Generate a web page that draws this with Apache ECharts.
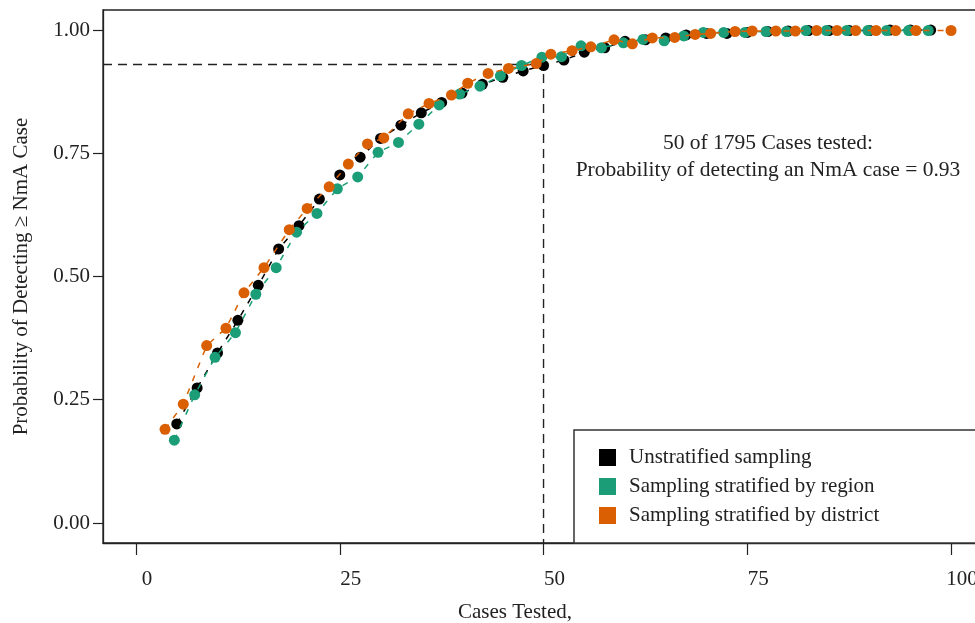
<!DOCTYPE html>
<html><head><meta charset="utf-8">
<script src="https://cdn.jsdelivr.net/npm/echarts@6/dist/echarts.min.js"></script>
<style>html,body{margin:0;padding:0;background:#fff}#c{width:975px;height:623px}</style>
</head><body><div id="c"></div><script>
const FONT = '"Liberation Serif", "DejaVu Serif", serif';
const seriesNames = ['Unstratified sampling', 'Sampling stratified by region', 'Sampling stratified by district'];
const seriesColors = ['#000000', '#1b9e77', '#d95f02'];

const unstratX = [5, 7.5, 10, 12.5, 15, 17.5, 20, 22.5, 25, 27.5, 30, 32.5, 35, 37.5, 40, 42.5, 45, 47.5, 50, 52.5,
  55, 57.5, 60, 62.5, 65, 67.5, 70, 72.5, 75, 77.5, 80, 82.5, 85, 87.5, 90, 92.5, 95, 97.5];
const unstratY = [0.201, 0.274, 0.345, 0.411, 0.482, 0.556, 0.603, 0.657, 0.706, 0.742, 0.780, 0.807, 0.832, 0.853, 0.872, 0.890, 0.904, 0.917, 0.928, 0.939,
  0.955, 0.964, 0.977, 0.980, 0.984, 0.990, 0.993, 0.993, 0.995, 0.997, 0.998, 0.999, 0.999, 0.999, 0.999, 1.0, 1.0, 1.0];

const regionX = [4.7, 7.2, 9.7, 12.2, 14.7, 17.2, 19.7, 22.2, 24.7, 27.2, 29.7, 32.2, 34.7, 37.2, 39.7, 42.2, 44.7, 47.3, 49.8, 52.2,
  54.6, 57.1, 59.8, 62.2, 64.8, 67.2, 69.6, 72.1, 74.7, 77.3, 79.8, 82.2, 84.7, 87.2, 89.8, 92.1, 94.8, 97.2];
const regionY = [0.168, 0.260, 0.336, 0.386, 0.464, 0.518, 0.590, 0.628, 0.678, 0.702, 0.752, 0.772, 0.809, 0.848, 0.870, 0.886, 0.907, 0.928, 0.945, 0.946,
  0.968, 0.964, 0.974, 0.981, 0.978, 0.988, 0.995, 0.995, 0.995, 0.997, 0.997, 0.999, 0.999, 0.999, 0.999, 0.999, 0.999, 0.999];

const districtX = [3.56, 5.8, 8.67, 11.04, 13.25, 15.7, 18.8, 21.0, 23.7, 26.05, 28.4, 30.4, 33.4, 35.95, 38.7, 40.7, 43.2, 45.7, 49.1, 50.9,
  53.5, 55.8, 58.65, 60.9, 63.35, 66.1, 68.6, 70.5, 73.5, 75.6, 78.5, 80.9, 83.5, 86.0, 88.3, 90.8, 93.2, 95.7, 100];
const districtY = [0.190, 0.241, 0.360, 0.395, 0.467, 0.518, 0.595, 0.638, 0.682, 0.728, 0.769, 0.781, 0.830, 0.851, 0.868, 0.892, 0.912, 0.922, 0.932, 0.951,
  0.958, 0.966, 0.980, 0.972, 0.984, 0.985, 0.991, 0.993, 0.997, 0.998, 0.998, 0.998, 0.999, 0.999, 0.999, 0.999, 0.999, 0.999, 0.999];

const xTicks = [0, 25, 50, 75, 100];
const yTicks = [0, 0.25, 0.5, 0.75, 1.0];
const refX = 50, refY = 0.93;
const annotationLines = ['50 of 1795 Cases tested:', 'Probability of detecting an NmA case = 0.93'];
const xTitle = 'Cases Tested,';
const yTitle = 'Probability of Detecting \u2265 NmA Case';

const X_MIN = -4.05, X_MAX = 104.9, Y_MIN = -0.0406, Y_MAX = 1.0406;

function zip(xs, ys) { return xs.map((x, i) => [x, ys[i]]); }
const groups = [[unstratX, unstratY], [regionX, regionY], [districtX, districtY]];

const chart = echarts.init(document.getElementById('c'), null, {renderer: 'canvas'});
const series = groups.map((g, i) => ({
  name: seriesNames[i], type: 'line', data: zip(g[0], g[1]),
  symbol: 'circle', symbolSize: 11, showSymbol: true, z: 3 + i,
  lineStyle: {type: [6, 8], width: 1.5, color: seriesColors[i]},
  itemStyle: {color: seriesColors[i], borderWidth: 0},
  emphasis: {disabled: true}, animation: false
}));
series.push({
  name: 'ref', type: 'line', data: [[X_MIN, refY], [refX, refY], [refX, Y_MIN]],
  symbol: 'none', silent: true, z: 2, animation: false,
  lineStyle: {type: [9, 6], width: 1.4, color: '#222'}
});

chart.setOption({
  backgroundColor: '#fff',
  animation: false,
  grid: {left: 103, top: 10, width: 888, height: 533, show: true, borderColor: '#222', borderWidth: 1.3,
    backgroundColor: 'transparent', outerBoundsMode: 'none', containLabel: false},
  xAxis: {
    type: 'value', min: X_MIN, max: X_MAX,
    axisLine: {show: true, onZero: false, lineStyle: {color: '#222', width: 1.3}},
    axisTick: {show: true, length: 12, customValues: xTicks, lineStyle: {color: '#222', width: 1.2}},
    axisLabel: {customValues: xTicks, fontFamily: FONT, fontSize: 21, color: '#222', margin: 26, padding: [0, 0, 0, 22]},
    splitLine: {show: false}
  },
  yAxis: {
    type: 'value', min: Y_MIN, max: Y_MAX,
    name: yTitle, nameLocation: 'middle', nameGap: 71, nameRotate: 90,
    nameTextStyle: {fontFamily: FONT, fontSize: 21, color: '#222'},
    axisLine: {show: true, onZero: false, lineStyle: {color: '#222', width: 1.3}},
    axisTick: {show: true, length: 10, customValues: yTicks, lineStyle: {color: '#222', width: 1.2}},
    axisLabel: {customValues: yTicks, fontFamily: FONT, fontSize: 21, color: '#222', margin: 13,
      formatter: v => Number(v).toFixed(2)},
    splitLine: {show: false}
  },
  legend: {
    data: seriesNames, orient: 'vertical', left: 594, top: 442,
    icon: 'rect', itemWidth: 17, itemHeight: 17, itemGap: 8,
    textStyle: {fontFamily: FONT, fontSize: 21, color: '#222', lineHeight: 21, padding: [0, 0, 0, 8]},
    selectedMode: false, z: 10
  },
  graphic: [
    {type: 'rect', shape: {x: 574, y: 430, width: 420, height: 113}, style: {fill: '#fff', stroke: '#333', lineWidth: 1.5}, z: 5, silent: true},
    {type: 'text', x: 768, y: 143, style: {text: annotationLines[0], font: '21.5px ' + FONT, fill: '#222', textAlign: 'center', textVerticalAlign: 'middle'}, z: 6},
    {type: 'text', x: 768, y: 170, style: {text: annotationLines[1], font: '21.5px ' + FONT, fill: '#222', textAlign: 'center', textVerticalAlign: 'middle'}, z: 6},
    {type: 'text', x: 515, y: 612, style: {text: xTitle, font: '21px ' + FONT, fill: '#222', textAlign: 'center', textVerticalAlign: 'middle'}, z: 6}
  ],
  series: series
});
</script></body></html>
